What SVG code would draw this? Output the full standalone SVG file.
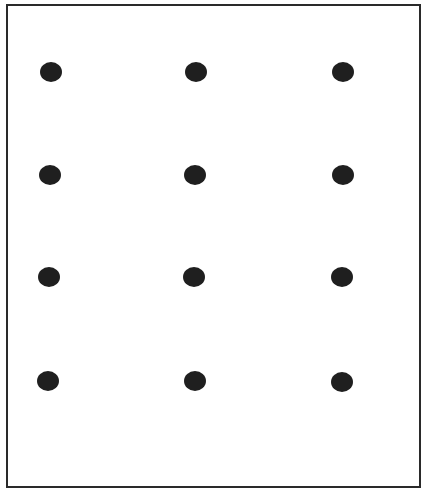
<svg xmlns="http://www.w3.org/2000/svg" width="421" height="488" viewBox="0 0 421 488">
<style>
.frame{fill:#ffffff;stroke:#2a2a2a;stroke-width:2}
.dot{fill:#1f1f1f}
</style>
<rect x="0" y="0" width="421" height="488" fill="#ffffff"/>
<rect class="frame" x="7" y="5" width="413" height="482"/>
<g id="connectors"></g>
<g id="n1"><ellipse class="dot" cx="51" cy="72" rx="11" ry="10"/></g>
<g id="n2"><ellipse class="dot" cx="196" cy="72" rx="11" ry="10"/></g>
<g id="n3"><ellipse class="dot" cx="343" cy="72" rx="11" ry="10"/></g>
<g id="n4"><ellipse class="dot" cx="50" cy="175" rx="11" ry="10"/></g>
<g id="n5"><ellipse class="dot" cx="195" cy="175" rx="11" ry="10"/></g>
<g id="n6"><ellipse class="dot" cx="343" cy="175" rx="11" ry="10"/></g>
<g id="n7"><ellipse class="dot" cx="49" cy="277" rx="11" ry="10"/></g>
<g id="n8"><ellipse class="dot" cx="194" cy="277" rx="11" ry="10"/></g>
<g id="n9"><ellipse class="dot" cx="342" cy="277" rx="11" ry="10"/></g>
<g id="n10"><ellipse class="dot" cx="48" cy="381" rx="11" ry="10"/></g>
<g id="n11"><ellipse class="dot" cx="195" cy="381" rx="11" ry="10"/></g>
<g id="n12"><ellipse class="dot" cx="342" cy="382" rx="11" ry="10"/></g>
</svg>
